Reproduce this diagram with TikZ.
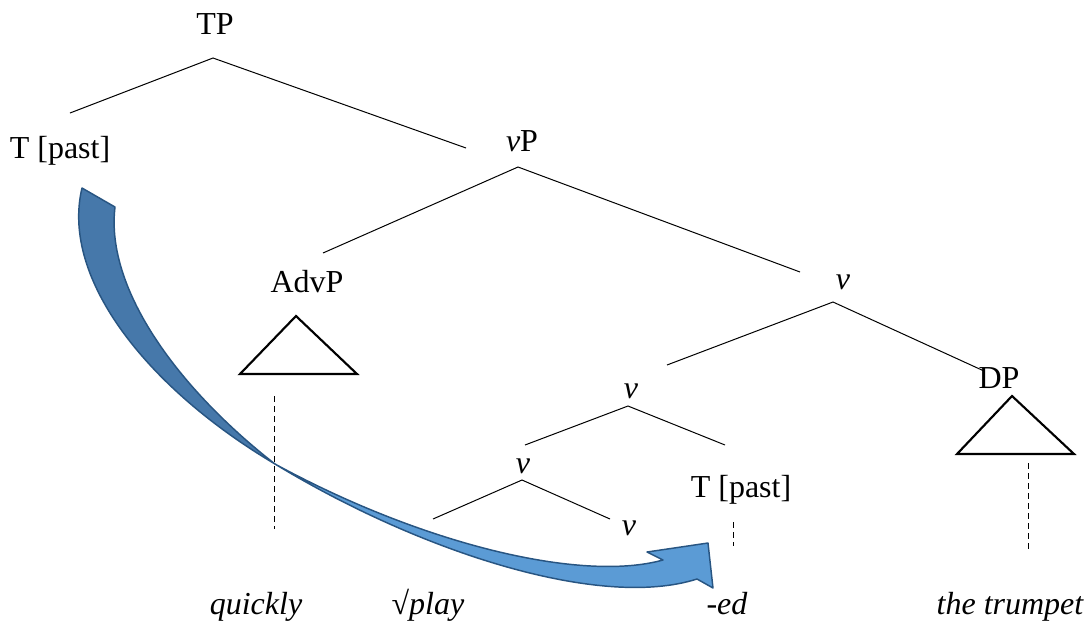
\documentclass[tikz,border=0pt]{standalone}
\usepackage{fontspec}
\setmainfont{LiberationSerif}[Extension=.ttf, UprightFont=*-Regular, ItalicFont=*-Italic, BoldFont=*-Bold]
\usetikzlibrary{positioning}
\definecolor{hopdark}{RGB}{70,120,170}
\definecolor{hoplight}{RGB}{91,155,213}
\definecolor{hopline}{RGB}{40,85,130}
\tikzset{
    cat/.style={anchor=base, inner sep=0pt, font=\rmfamily\fontsize{24}{28}\selectfont},
    word/.style={cat, font=\rmfamily\fontsize{24}{28}\selectfont\itshape},
    branch/.style={line width=0.75pt},
    roof/.style={line width=1.6pt, line join=miter},
    trace/.style={line width=0.75pt, dash pattern=on 4.5pt off 3pt},
    hop/.style={draw=hopline, line width=1.1pt, line join=round},
}

\begin{document}
\begin{tikzpicture}[x=0.75pt, y=-0.75pt]
    \useasboundingbox (0,0) rectangle (1088,626);

    % category labels
    \node[cat] (tp) at (215,34) {TP};
    \node[cat] (tpast) at (60,158) {T [past]};
    \node[cat] (vp) at (522,151) {\textit{v}P};
    \node[cat] (advp) at (307,292) {AdvP};
    \node[cat] (vbar) at (843,289) {\textit{v}};
    \node[cat] (dp) at (999,388) {DP};
    \node[cat] (vmid) at (631,398) {\textit{v}};
    \node[cat] (vlow) at (523,473) {\textit{v}};
    \node[cat] (tlow) at (741,497) {T [past]};
    \node[cat] (vhead) at (629,535) {\textit{v}};

    % words
    \node[word] (quickly) at (256,614) {quickly};
    \node[word] (play) at (428,614) {{\upshape √}play};
    \node[word] (ed) at (727,614) {-ed};
    \node[word] (trumpet) at (1010,614) {the trumpet};

    % branch points
    \coordinate (tp-top) at (213,58);
    \coordinate (tp-l) at (70,113);
    \coordinate (tp-r) at (466,148);
    \coordinate (vp-top) at (518,167);
    \coordinate (vp-l) at (323,253);
    \coordinate (vp-r) at (800,272);
    \coordinate (vbar-top) at (833,302);
    \coordinate (vbar-l) at (667,365);
    \coordinate (vbar-r) at (984,371);
    \coordinate (vmid-top) at (628,406);
    \coordinate (vmid-l) at (525,445);
    \coordinate (vmid-r) at (725,445);
    \coordinate (vlow-top) at (522,480);
    \coordinate (vlow-l) at (433,519);
    \coordinate (vlow-r) at (610,519);

    \draw[branch] (tp-l) -- (tp-top) -- (tp-r);
    \draw[branch] (vp-l) -- (vp-top) -- (vp-r);
    \draw[branch] (vbar-l) -- (vbar-top) -- (vbar-r);
    \draw[branch] (vmid-l) -- (vmid-top) -- (vmid-r);
    \draw[branch] (vlow-l) -- (vlow-top) -- (vlow-r);

    % roofs
    \draw[roof] (296,316) -- (357,374) -- (240,374) -- cycle;
    \draw[roof] (1012,396) -- (1074,454) -- (957,454) -- cycle;

    % dashed lines down to the words
    \coordinate (advp-d1) at (274,396);
    \coordinate (advp-d2) at (274,529);
    \coordinate (dp-d1) at (1028,463);
    \coordinate (dp-d2) at (1028,552);
    \coordinate (tlow-d1) at (733,522);
    \coordinate (tlow-d2) at (733,546);
    \draw[trace] (advp-d1) -- (advp-d2);
    \draw[trace] (dp-d1) -- (dp-d2);
    \draw[trace] (tlow-d1) -- (tlow-d2);

    % lowering arrow
    \coordinate (twist) at (275,464);
    \filldraw[hop, fill=hopdark] (82,188) .. controls (60,280) and (150,390) .. (twist)
        .. controls (180,390) and (105,290) .. (115,207) -- cycle;
    \filldraw[hop, fill=hoplight] (twist) .. controls (420,552) and (600,610) .. (697,579)
        -- (713,588) -- (708,543) -- (647,552) -- (663,560)
        .. controls (580,583) and (420,543) .. (twist) -- cycle;

\end{tikzpicture}
\end{document}
